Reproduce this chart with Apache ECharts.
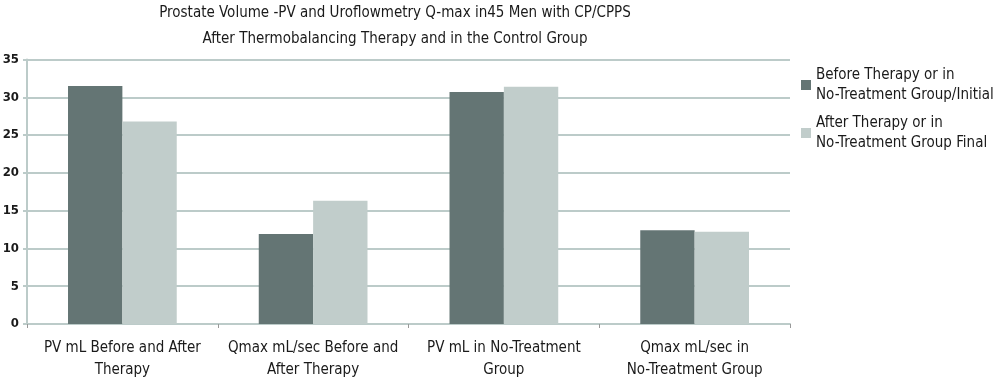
<!DOCTYPE html>
<html>
<head>
<meta charset="utf-8">
<script src="https://cdn.jsdelivr.net/npm/echarts@6/dist/echarts.min.js"></script>
<style>
  html, body { margin: 0; padding: 0; background: #fff; }
  #chart { width: 1000px; height: 377px; }
</style>
</head>
<body>
<div id="chart"></div>
<script>
// categories (x axis)
var categories = [
  'PV mL Before and After\nTherapy',
  'Qmax mL/sec Before and\nAfter Therapy',
  'PV mL in No-Treatment\nGroup',
  'Qmax mL/sec in\nNo-Treatment Group'
]
var seriesNames = ['Before Therapy or in\nNo-Treatment Group/Initial', 'After Therapy or in\nNo-Treatment Group Final']
var before = [31.5, 11.9, 30.7, 12.4]
var after = [26.8, 16.3, 31.4, 12.2]
var yTicks = [0, 5, 10, 15, 20, 25, 30, 35]

var font = '"Liberation Sans Narrow", "DejaVu Sans Condensed", sans-serif'
var gridColor = '#bccbc9'

var chart = echarts.init(document.getElementById('chart'))
var option = {
  animation: false,
  title: {
    text: 'Prostate Volume -PV and Uroflowmetry Q-max in45 Men with CP/CPPS\nAfter Thermobalancing Therapy and in the Control Group',
    left: 395,
    textAlign: 'center',
    top: 0,
    padding: 0,
    textStyle: {
      fontFamily: font,
      fontSize: 15,
      fontWeight: 'normal',
      color: '#1a1a1a',
      lineHeight: 26
    }
  },
  legend: {
    orient: 'vertical',
    left: 796,
    top: 60,
    itemWidth: 10,
    itemHeight: 10,
    itemGap: 8,
    icon: 'rect',
    textStyle: {
      fontFamily: font,
      fontSize: 15,
      color: '#1a1a1a',
      lineHeight: 20
    },
    data: seriesNames
  },
  color: ['#647574', '#c1cdcb'],
  grid: {
    left: 27,
    right: 210,
    top: 59.5,
    bottom: 53,
    outerBoundsMode: 'none'
  },
  xAxis: {
    type: 'category',
    data: categories,
    axisLine: { lineStyle: { color: gridColor, width: 2 } },
    axisTick: { show: true, length: 4, lineStyle: { color: '#999' } },
    axisLabel: {
      fontFamily: font,
      fontSize: 15,
      color: '#1a1a1a',
      lineHeight: 22,
      margin: 13,
      interval: 0
    }
  },
  yAxis: {
    type: 'value',
    min: yTicks[0],
    max: yTicks[yTicks.length - 1],
    interval: 5,
    axisLine: { show: true, lineStyle: { color: gridColor, width: 2 } },
    axisTick: { show: true, length: 4, lineStyle: { color: gridColor, width: 2 } },
    splitLine: { lineStyle: { color: gridColor, width: 2 } },
    axisLabel: {
      fontFamily: font,
      fontSize: 13,
      fontWeight: 'bold',
      color: '#1a1a1a',
      margin: 8
    }
  },
  series: [
    {
      name: seriesNames[0],
      type: 'bar',
      data: before,
      barGap: '0%',
      barCategoryGap: '43%'
    },
    {
      name: seriesNames[1],
      type: 'bar',
      data: after,
      barGap: '0%',
      barCategoryGap: '43%'
    }
  ]
}
chart.setOption(option)
window.addEventListener('resize', function() {
  chart.resize()
})
</script>
</body>
</html>
